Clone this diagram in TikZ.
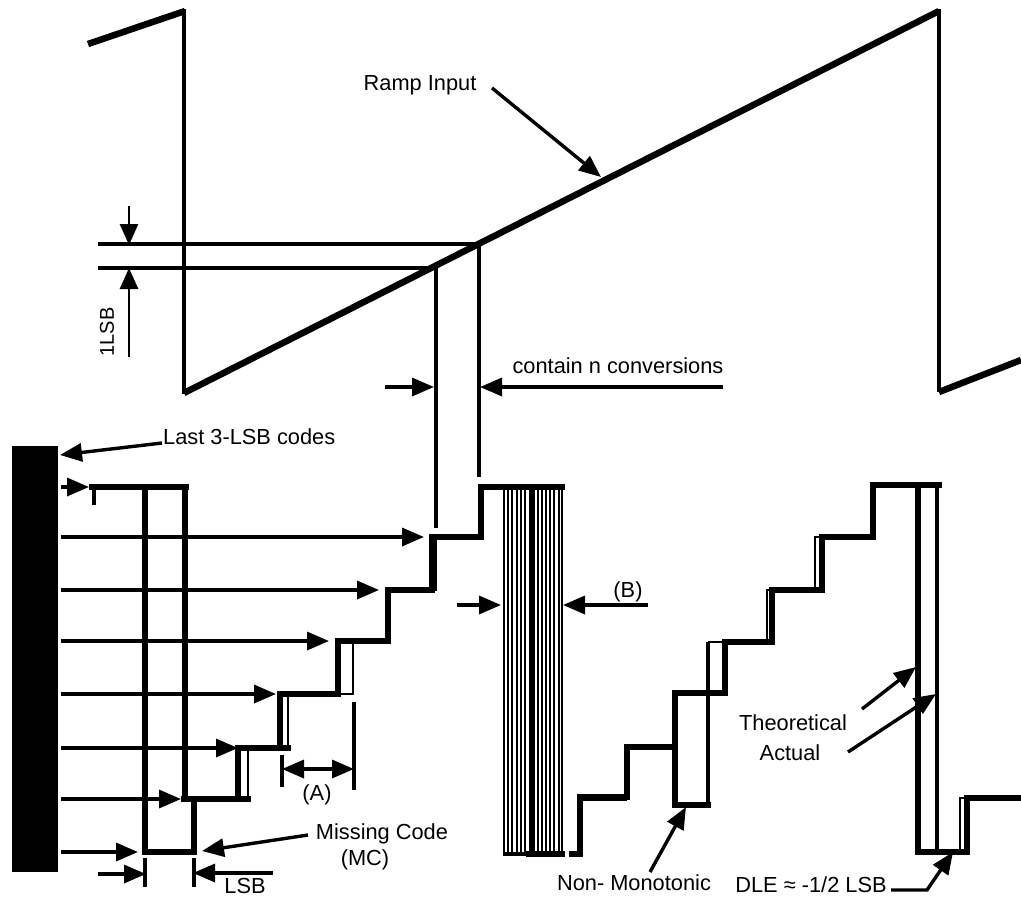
\documentclass[tikz,border=0pt]{standalone}
\usepackage{fontspec}
\setmainfont{Liberation Sans}
\usetikzlibrary{arrows.meta}
\begin{document}
\begin{tikzpicture}[x=1pt,y=-1pt,
  thk/.style={line width=5.4pt,line cap=rect},
  ramp/.style={line width=6.5pt},
  thn/.style={line width=2.6pt},
  med/.style={line width=3.6pt},
  hl/.style={line width=1.9pt},
  arr/.style={line width=3.4pt,-{Triangle[length=22pt,width=18pt]}},
  darr/.style={line width=3.4pt,{Triangle[length=22pt,width=18pt]}-{Triangle[length=22pt,width=18pt]}},
  lbl/.style={font=\fontsize{21.8}{26}\selectfont,inner sep=0pt},
]
\useasboundingbox (0,0) rectangle (1021,898);

% ---------------- ramp input ----------------
\draw[ramp] (88,44) -- (185,11);
\draw[med] (184,9) -- (184,394);
\draw[ramp] (184,393) -- (939,11);
\draw[med] (939,9) -- (939,392);
\draw[ramp] (939,392) -- (1021,360);

\node[lbl] (rampl) at (420,85) {Ramp Input};
\coordinate (rampa) at (492,88);
\coordinate (rampb) at (601,177);
\draw[arr] (rampa) -- (rampb);

% 1 LSB band
\coordinate (h1a) at (98,244);  \coordinate (h1b) at (479,244);
\coordinate (h2a) at (98,268);  \coordinate (h2b) at (436,268);
\draw[med] (h1a) -- (h1b);
\draw[med] (h2a) -- (h2b);
\coordinate (v1b) at (479,477);
\coordinate (v2b) at (436,528);
\draw[med] (h1b) -- (v1b);
\draw[med] (h2b) -- (v2b);
\coordinate (lsbt) at (129,206);
\coordinate (lsbu) at (129,357);
\draw[line width=2.8pt,-{Triangle[length=21pt,width=18pt]}] (lsbt) -- (129,245);
\draw[line width=2.8pt,-{Triangle[length=21pt,width=18pt]}] (lsbu) -- (129,268);
\node[lbl,rotate=90,font=\fontsize{20}{24}\selectfont] (onelsb) at (107,332) {1LSB};

% contain n conversions
\coordinate (cna) at (385,387); \coordinate (cnb) at (434,387);
\coordinate (cnc) at (723,387); \coordinate (cnd) at (480,387);
\draw[arr] (cna) -- (cnb);
\draw[arr] (cnc) -- (cnd);
\node[lbl] (cnl) at (618,366) {contain n conversions};

% ---------------- code bar ----------------
\fill (12,446) rectangle (58,872);
\node[lbl,anchor=west] (last3) at (163,437) {Last 3-LSB codes};
\draw[arr] (last3.west) ++(-1,6) -- (60,455);

% horizontal code arrows
\foreach \y/\xe in {487/89,537/424,590/379,641/329,694/276,748/238,799/181,852/138}{
  \draw[arr] (61,\y) -- (\xe,\y);
}

% ---------------- staircase 1 (missing code) ----------------
\draw[thk] (92,487) -- (186,487);
\draw[med] (94,487) -- (94,505);
\draw[thk] (145,487) -- (145,852) -- (194,852) -- (194,799);
\draw[thk] (185,487) -- (185,799);
% theoretical (thin)
\draw[thn] (184,799) -- (248,799) -- (248,748) -- (288,748) -- (288,694)
  -- (353,694) -- (353,641) -- (390,641) -- (390,590) -- (436,590)
  -- (436,537) -- (481,537) -- (481,487);
% actual (thick)
\draw[thk] (184,799) -- (238,799) -- (238,748) -- (280,748) -- (280,694)
  -- (338,694) -- (338,641) -- (388,641) -- (388,590) -- (432,590)
  -- (432,537) -- (481,537) -- (481,487) -- (562,487);
\draw[thk] (238,799) -- (248,799);
\draw[thk] (280,748) -- (288,748);

% (A)
\draw[med] (282,755) -- (282,787);
\draw[med] (354,702) -- (354,790);
\draw[darr] (282,769) -- (354,769);
\node[lbl] (al) at (317,795) {(A)};

% Missing code
\node[lbl] (mc1) at (382,834) {Missing Code};
\node[lbl] (mc2) at (365,860) {(MC)};
\draw[arr] (308,835) -- (202,851);

% LSB
\draw[med] (145,858) -- (145,887);
\draw[med] (194,858) -- (194,887);
\draw[arr] (98,874) -- (146,874);
\draw[arr] (273,873) -- (193,873);
\node[lbl] (lsbl) at (245,886) {LSB};

% ---------------- hatched block (B) ----------------
\foreach \x in {504,508.2,512.4,516.6,520.8,525,537.6,541.8,546,550.2,554.4,558.6,562}{
  \draw[hl] (\x,487) -- (\x,854);
}
\fill (528.5,487) rectangle (535,854);
\draw[med] (503,854) -- (562,854);
\draw[thk] (529,854) -- (562,854);
\draw[arr] (457,605) -- (501,605);
\draw[arr] (648,605) -- (563,605);
\node[lbl] (bl) at (628,592) {(B)};

% ---------------- staircase 3 ----------------
\draw[thk] (572,854) -- (580,854) -- (580,797) -- (627,797) -- (627,747) -- (675,747);
\draw[thn] (580,800) -- (627,800);
\draw[thk] (675,693) -- (675,805) -- (708,805);
\draw[med] (708,805) -- (708,642);
\draw[thk] (675,693) -- (725,693) -- (725,642) -- (772,642) -- (772,590)
  -- (822,590) -- (822,537) -- (873,537) -- (873,485) -- (939,485);
\draw[thn] (708,642) -- (767,642) -- (767,590) -- (815,590) -- (815,537) -- (822,537);
\draw[thk] (918,485) -- (918,852) -- (967,852) -- (967,798) -- (1018,798);
\draw[med] (937,485) -- (937,852);
\draw[thn] (960,852) -- (960,798) -- (967,798);

% Non-monotonic
\node[lbl] (nm) at (634,883) {Non- Monotonic};
\draw[arr] (650,872) -- (686,807);

% Theoretical / actual
\node[lbl] (th) at (793,723) {Theoretical};
\node[lbl] (ac) at (790,753) {Actual};
\draw[arr] (862,709) -- (916,667);
\draw[arr] (848,752) -- (936,694);

% DLE
\node[lbl] (dle) at (811,885) {DLE ≈ -1/2 LSB};
\draw[line width=3.4pt,-{Triangle[length=22pt,width=18pt]}] (891,890) -- (927,890) -- (953,852);
\end{tikzpicture}
\end{document}
